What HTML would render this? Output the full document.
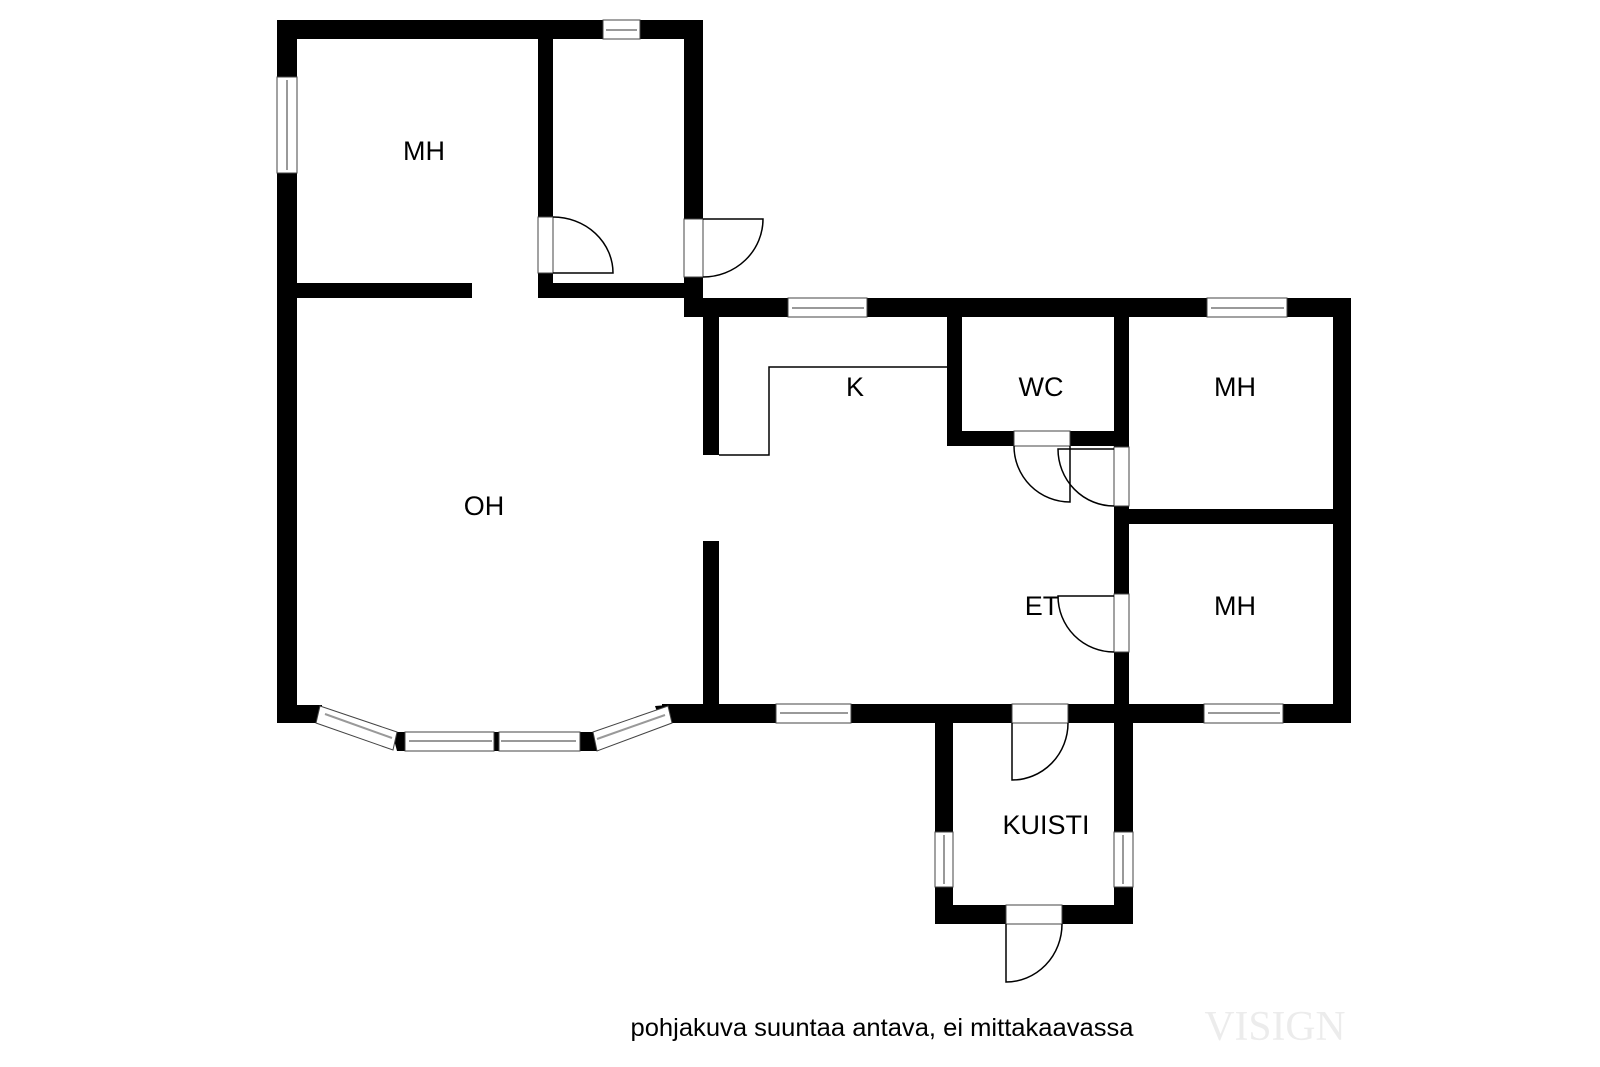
<!DOCTYPE html>
<html><head><meta charset="utf-8"><style>html,body{margin:0;padding:0;background:#fff}svg{display:block}</style></head><body>
<svg width="1600" height="1067" viewBox="0 0 1600 1067" xmlns="http://www.w3.org/2000/svg">
<g fill="#000">
<rect x="277" y="20" width="426" height="19"/>
<rect x="277" y="20" width="20" height="703"/>
<rect x="538" y="39" width="15" height="259"/>
<rect x="297" y="283" width="175" height="15"/>
<rect x="538" y="283" width="165" height="15"/>
<rect x="684" y="20" width="19" height="297"/>
<rect x="684" y="298" width="667" height="19"/>
<rect x="703" y="317" width="16" height="138"/>
<rect x="703" y="541" width="16" height="170"/>
<rect x="947" y="317" width="15" height="129"/>
<rect x="947" y="431" width="182" height="15"/>
<rect x="1114" y="298" width="15" height="425"/>
<rect x="1129" y="509" width="222" height="15"/>
<rect x="1333" y="298" width="18" height="425"/>
<rect x="662" y="704" width="689" height="19"/>
<rect x="277" y="705" width="45" height="18"/>
<rect x="935" y="723" width="18" height="201"/>
<rect x="1114" y="723" width="19" height="201"/>
<rect x="935" y="905" width="198" height="19"/>
<polygon points="392,732 405,732 405,751 397,751"/>
<polygon points="580,732 593,732 597,751 580,751"/>
<polygon points="655,706 668,705 671,723 661,723"/>
<rect x="494" y="732" width="5" height="19"/>
</g>
<g fill="#fff" stroke="#444" stroke-width="1">
<rect x="603" y="20" width="37" height="19"/>
<rect x="277" y="77" width="20" height="96"/>
<rect x="538" y="217" width="15" height="56"/>
<rect x="684" y="219" width="19" height="58"/>
<rect x="788" y="298" width="79" height="19"/>
<rect x="1207" y="298" width="80" height="19"/>
<rect x="1014" y="431" width="56" height="15"/>
<rect x="1114" y="447" width="15" height="59"/>
<rect x="1114" y="594" width="15" height="58"/>
<rect x="776" y="704" width="75" height="19"/>
<rect x="1012" y="704" width="56" height="19"/>
<rect x="1204" y="704" width="79" height="19"/>
<rect x="935" y="832" width="18" height="55"/>
<rect x="1114" y="832" width="19" height="55"/>
<rect x="1006" y="905" width="56" height="19"/>
<rect x="405" y="732" width="89" height="19"/>
<rect x="499" y="732" width="81" height="19"/>
<polygon points="320,706 397,732 393,750 316,723"/>
<polygon points="593,732 668,706 672,723 597,751"/>
</g>
<g stroke="#999" stroke-width="2" fill="none">
<line x1="606" y1="30" x2="637" y2="30"/>
<line x1="287" y1="80" x2="287" y2="170"/>
<line x1="792" y1="308" x2="864" y2="308"/>
<line x1="1211" y1="308" x2="1284" y2="308"/>
<line x1="780" y1="713" x2="848" y2="713"/>
<line x1="1208" y1="713" x2="1280" y2="713"/>
<line x1="944" y1="835" x2="944" y2="884"/>
<line x1="1123" y1="835" x2="1123" y2="884"/>
<line x1="409" y1="741" x2="492" y2="741"/>
<line x1="501" y1="741" x2="576" y2="741"/>
<line x1="325" y1="714" x2="392" y2="738"/>
<line x1="597" y1="739" x2="665" y2="715"/>
</g>
<g stroke="#000" stroke-width="1.5" fill="none">
<polyline points="719,455 769,455 769,367 947,367"/>
<path d="M553,273 L613,273 A60,56 0 0 0 553,217"/>
<path d="M703,219 L763,219 A60,58 0 0 1 703,277"/>
<path d="M1070,446 L1070,502 A56,56 0 0 1 1014,446"/>
<path d="M1114,449 L1058,449 A56,57 0 0 0 1114,506"/>
<path d="M1114,596 L1058,596 A56,56 0 0 0 1114,652"/>
<path d="M1012,723 L1012,780 A56,57 0 0 0 1068,723"/>
<path d="M1006,924 L1006,982 A56,58 0 0 0 1062,924"/>
</g>
<g font-family="Liberation Sans, sans-serif" font-size="27" fill="#000" text-anchor="middle">
<text x="424" y="160">MH</text>
<text x="484" y="515">OH</text>
<text x="855" y="396">K</text>
<text x="1041" y="396">WC</text>
<text x="1235" y="396">MH</text>
<text x="1042" y="615">ET</text>
<text x="1235" y="615">MH</text>
<text x="1046" y="834">KUISTI</text>
<text x="882" y="1036" font-size="25" textLength="503" lengthAdjust="spacingAndGlyphs">pohjakuva suuntaa antava, ei mittakaavassa</text>
</g>
<text x="1275" y="1040" font-family="Liberation Serif, serif" font-size="42" fill="#ececec" text-anchor="middle" textLength="141" lengthAdjust="spacingAndGlyphs">VISIGN</text>
</svg>
</body></html>
